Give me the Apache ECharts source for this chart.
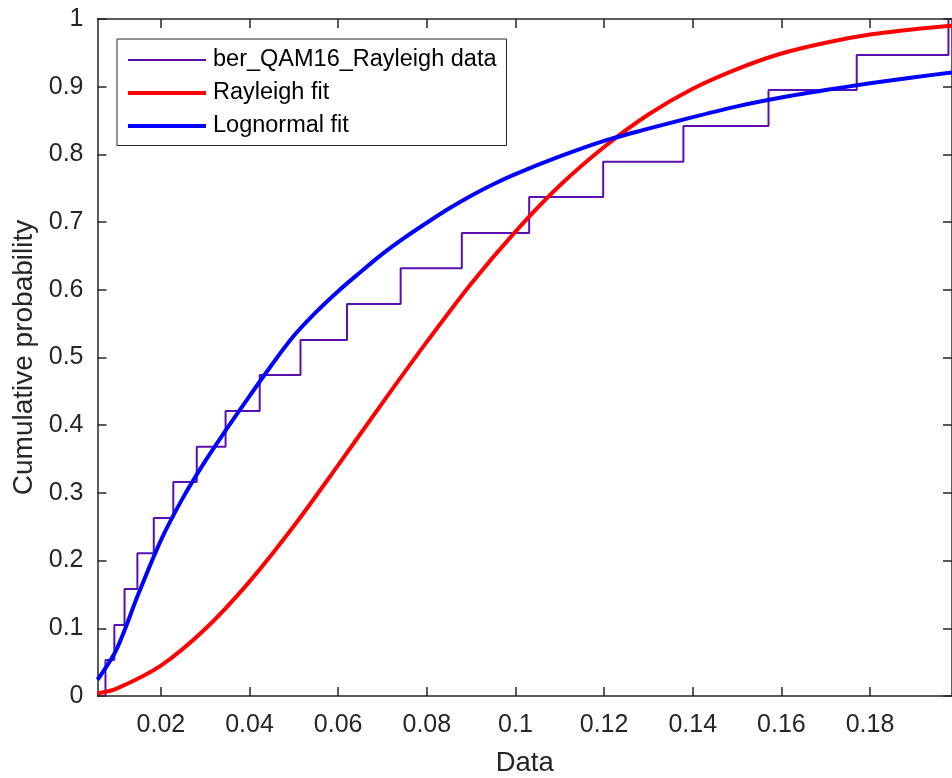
<!DOCTYPE html>
<html>
<head>
<meta charset="utf-8">
<script src="https://cdn.jsdelivr.net/npm/echarts@6/dist/echarts.min.js"></script>
<style>
html,body{margin:0;padding:0;background:#fff;}
#c{width:952px;height:778px;}
</style>
</head>
<body>
<div id="c"></div>
<script>
// Empirical CDF step positions (data) and levels
const ecdfX = [0.0075, 0.0095, 0.0118, 0.0147, 0.0184, 0.0228, 0.0281, 0.0346, 0.0423, 0.0515,
               0.0620, 0.0741, 0.0879, 0.1031, 0.1198, 0.1379, 0.1571, 0.1770, 0.1977];
const ecdfY = [0.053, 0.105, 0.158, 0.211, 0.263, 0.316, 0.368, 0.421, 0.474, 0.526,
               0.579, 0.632, 0.684, 0.737, 0.789, 0.842, 0.895, 0.947, 1.0];

// Rayleigh fit curve
const rayX = [0.0057, 0.01, 0.02, 0.03, 0.04, 0.05, 0.06, 0.07, 0.08, 0.09, 0.10,
              0.11, 0.12, 0.13, 0.14, 0.15, 0.16, 0.17, 0.18, 0.19, 0.1985];
const rayY = [0.004, 0.011, 0.045, 0.099, 0.169, 0.251, 0.341, 0.433, 0.523, 0.609, 0.686,
              0.754, 0.811, 0.859, 0.897, 0.926, 0.949, 0.965, 0.977, 0.985, 0.990];

// Lognormal fit curve
const logX = [0.0057, 0.01, 0.015, 0.02, 0.025, 0.03, 0.035, 0.04, 0.045, 0.05, 0.055, 0.06, 0.065,
              0.07, 0.075, 0.08, 0.085, 0.09, 0.095, 0.10, 0.11, 0.12, 0.13, 0.14, 0.15, 0.16, 0.17,
              0.18, 0.19, 0.1985];
const logY = [0.024, 0.069, 0.152, 0.230, 0.293, 0.347, 0.396, 0.443, 0.489, 0.532, 0.567, 0.598, 0.626,
              0.653, 0.677, 0.699, 0.720, 0.739, 0.756, 0.771, 0.797, 0.820, 0.838, 0.855, 0.871, 0.884, 0.895,
              0.905, 0.914, 0.921];

const xTicks = [0.02, 0.04, 0.06, 0.08, 0.10, 0.12, 0.14, 0.16, 0.18];
const seriesNames = ['ber_QAM16_Rayleigh data', 'Rayleigh fit', 'Lognormal fit'];

const ecdfData = [[ecdfX[0], 0]];
for (let i = 0; i < ecdfX.length; i++) ecdfData.push([ecdfX[i], ecdfY[i]]);
const rayData = rayX.map((x, i) => [x, rayY[i]]);
const logData = logX.map((x, i) => [x, logY[i]]);

const FONT = "'Liberation Sans', Arial, Helvetica, sans-serif";
const AX = '#262626';
const PURPLE = '#5a10b0';
const XMIN = 0.0057, XMAX = 0.1985;

const chart = echarts.init(document.getElementById('c'), null, {renderer: 'canvas'});
chart.setOption({
  backgroundColor: '#fff',
  animation: false,
  textStyle: {fontFamily: FONT},
  grid: {left: 97.5, top: 19, right: 0, bottom: 82, containLabel: false, outerBoundsMode: 'none'},
  legend: {
    data: [
      {name: seriesNames[0], lineStyle: {width: 2, color: PURPLE}},
      {name: seriesNames[1], lineStyle: {width: 4, color: '#ff0000'}},
      {name: seriesNames[2], lineStyle: {width: 4, color: '#0000ff'}}
    ],
    orient: 'vertical',
    left: 117, top: 39,
    padding: [8.5, 10, 7, 9],
    itemWidth: 78, itemHeight: 25, itemGap: 8,
    itemStyle: {opacity: 0},
    backgroundColor: '#fff',
    borderColor: AX, borderWidth: 1,
    textStyle: {fontFamily: FONT, fontSize: 23.5, color: '#000', lineHeight: 25, padding: [0, 0, 0, 2]},
    selectedMode: false
  },
  xAxis: [{
    type: 'value', min: XMIN, max: XMAX, position: 'bottom',
    name: 'Data', nameLocation: 'middle', nameGap: 53,
    nameTextStyle: {fontFamily: FONT, fontSize: 27.5, color: AX},
    axisLine: {show: true, onZero: false, lineStyle: {color: AX, width: 1.5}},
    axisTick: {show: true, inside: true, length: 9, customValues: xTicks, lineStyle: {color: AX, width: 1.5}},
    axisLabel: {show: true, customValues: xTicks, fontFamily: FONT, fontSize: 25, color: AX, margin: 17,
      formatter: v => String(+v.toFixed(2))},
    splitLine: {show: false}
  }, {
    type: 'value', min: XMIN, max: XMAX, position: 'top',
    axisLine: {show: true, onZero: false, lineStyle: {color: AX, width: 1.5}},
    axisTick: {show: true, inside: true, length: 9, customValues: xTicks, lineStyle: {color: AX, width: 1.5}},
    axisLabel: {show: false},
    splitLine: {show: false}
  }],
  yAxis: [{
    type: 'value', min: 0, max: 1, interval: 0.1, position: 'left',
    name: 'Cumulative probability', nameLocation: 'middle', nameGap: 58.5, nameRotate: 90,
    nameTextStyle: {fontFamily: FONT, fontSize: 28, color: AX},
    axisLine: {show: true, onZero: false, lineStyle: {color: AX, width: 1.5}},
    axisTick: {show: true, inside: true, length: 9, lineStyle: {color: AX, width: 1.5}},
    axisLabel: {fontFamily: FONT, fontSize: 25, color: AX, margin: 14,
      formatter: v => String(+v.toFixed(1))},
    splitLine: {show: false}
  }, {
    type: 'value', min: 0, max: 1, interval: 0.1, position: 'right',
    axisLine: {show: true, onZero: false, lineStyle: {color: AX, width: 1.5}},
    axisTick: {show: true, inside: true, length: 9, lineStyle: {color: AX, width: 1.5}},
    axisLabel: {show: false},
    splitLine: {show: false}
  }],
  series: [{
    name: seriesNames[0], type: 'line', step: 'end', data: ecdfData,
    symbol: 'none', color: PURPLE,
    lineStyle: {color: PURPLE, width: 2}, z: 2
  }, {
    name: seriesNames[1], type: 'line', data: rayData, smooth: 0.3,
    symbol: 'none', color: '#ff0000',
    lineStyle: {color: '#ff0000', width: 4}, z: 3
  }, {
    name: seriesNames[2], type: 'line', data: logData, smooth: 0.3,
    symbol: 'none', color: '#0000ff',
    lineStyle: {color: '#0000ff', width: 4}, z: 4
  }]
});
</script>
</body>
</html>
